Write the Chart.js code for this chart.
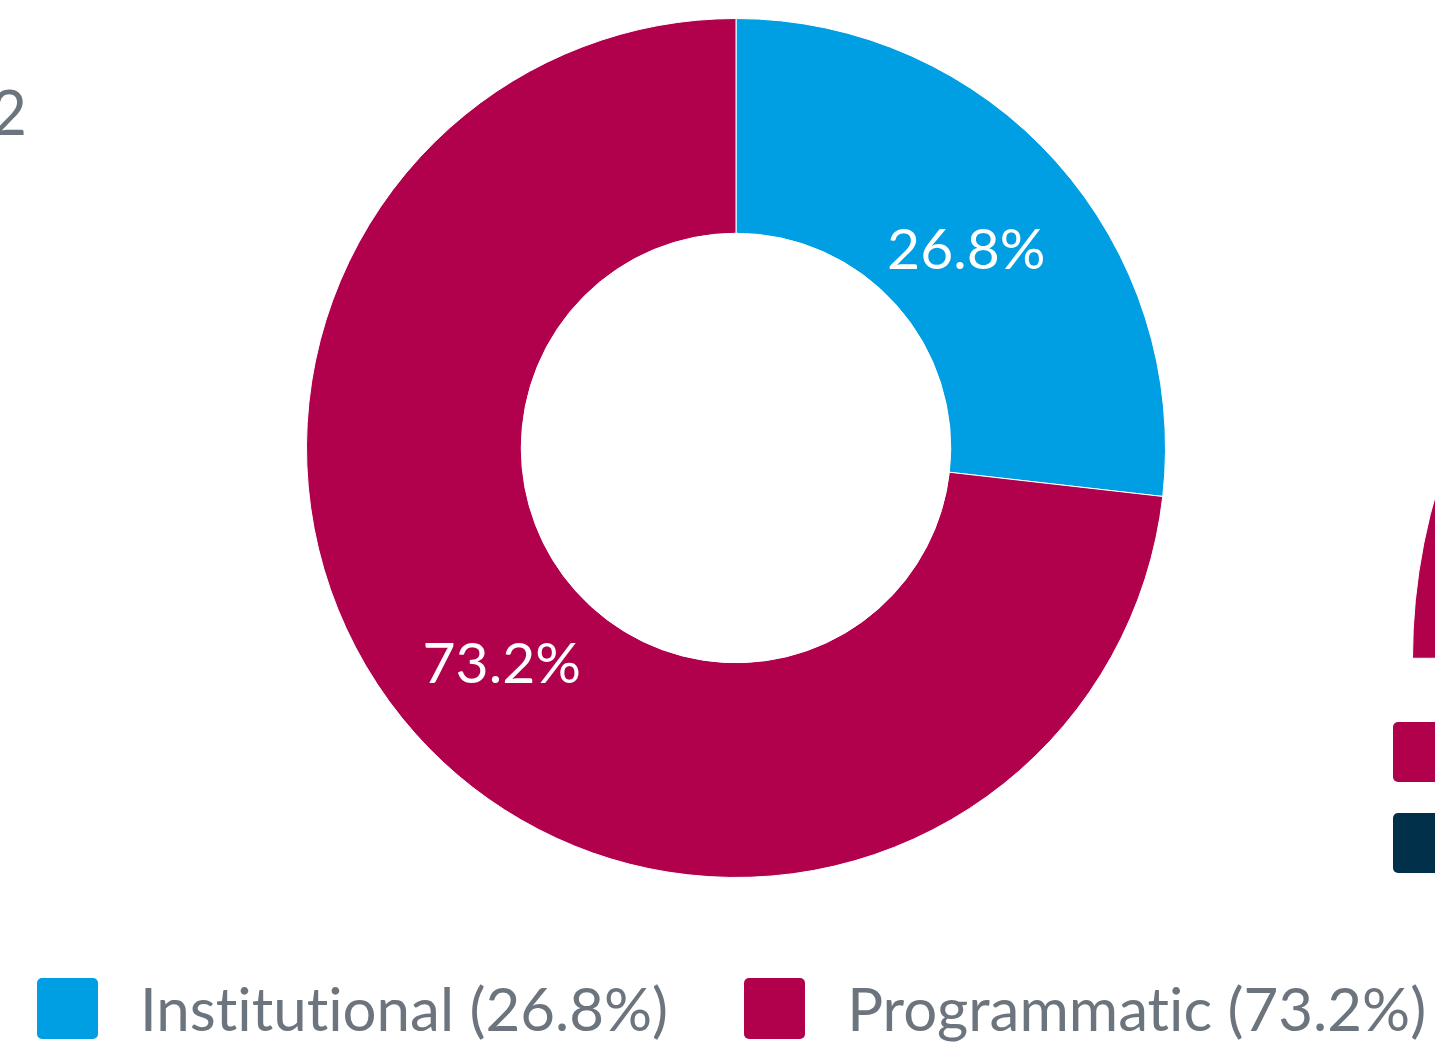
<!DOCTYPE html>
<html>
<head>
<meta charset="utf-8">
<title>Funding split</title>
<script src="https://cdn.jsdelivr.net/npm/chart.js@4.4.1/dist/chart.umd.min.js"></script>
<style>
  html, body {
    margin: 0;
    padding: 0;
    width: 1435px;
    height: 1049px;
    overflow: hidden;
    background: #fff;
    font-family: Lato, sans-serif;
    font-variant-ligatures: none;
    font-feature-settings: "liga" 0, "clig" 0;
  }
  body { position: relative; }
  .abs { position: absolute; }

  /* cut-off heading from the panel on the left */
  #edgeText {
    right: 1408px;
    top: 74px;
    font-size: 62px;
    line-height: 1.2;
    color: #6c757d;
    white-space: nowrap;
  }

  #legend {
    left: 37px;
    top: 972px;
    display: flex;
    align-items: center;
  }
  .item { display: flex; align-items: center; margin-right: 76px; }
  .box { width: 61px; height: 61px; border-radius: 5px; margin-right: 42px; }
  .text { font-size: 60px; line-height: 1.2; color: #6c757d; white-space: nowrap; }

  #rightLegend { left: 1393px; top: 722px; }
  .rbox { width: 60px; height: 60px; border-radius: 5px; margin-bottom: 31px; }
</style>
</head>
<body>

<div id="edgeText" class="abs">2</div>

<canvas id="chart" class="abs" width="860" height="860" style="left:306px; top:18px;"></canvas>
<canvas id="chartRight" class="abs" width="1182" height="592" style="left:1412px; top:67px;"></canvas>

<div id="legend" class="abs"></div>
<div id="rightLegend" class="abs"></div>

<script>
/* Data */
const categories = ["Institutional", "Programmatic"];
const shares = [26.8, 73.2];
const colors = ["#009fe3", "#b1004c"];

/* Neighbour gauge: only its left edge is in frame, split not readable */
const rightValues = [50, 50];
const rightColors = ["#b1004c", "#00304a"];

/* Percent labels inside the slices */
const sliceLabels = {
  id: "sliceLabels",
  afterDatasetsDraw(chart) {
    const ctx = chart.ctx;
    const meta = chart.getDatasetMeta(0);
    const size = 57;

    ctx.save();
    ctx.font = size + "px Lato";
    ctx.fillStyle = "#ffffff";
    ctx.textAlign = "center";
    ctx.textBaseline = "alphabetic";

    meta.data.forEach((arc, i) => {
      const p = arc.getProps(["x", "y", "startAngle", "endAngle", "innerRadius", "outerRadius"], true);
      const mid = (p.startAngle + p.endAngle) / 2;
      const r = p.innerRadius + (p.outerRadius - p.innerRadius) * 0.45;
      const x = p.x + Math.cos(mid) * r;
      const y = p.y + Math.sin(mid) * r;
      ctx.fillText(shares[i].toFixed(1) + "%", x - 2, y + size * 0.49);
    });

    ctx.restore();
  }
};

/* Main doughnut */
const chart = new Chart(document.getElementById("chart"), {
  type: "doughnut",
  data: {
    labels: categories,
    datasets: [
      {
        data: shares,
        backgroundColor: colors,
        borderColor: "#ffffff",
        borderWidth: 1
      }
    ]
  },
  options: {
    responsive: false,
    animation: false,
    cutout: "50%",
    layout: { padding: 0 },
    plugins: {
      legend: { display: false },
      tooltip: { enabled: false }
    }
  },
  plugins: [sliceLabels]
});

/* Half gauge at the right edge */
new Chart(document.getElementById("chartRight"), {
  type: "doughnut",
  data: {
    datasets: [
      {
        data: rightValues,
        backgroundColor: rightColors,
        borderColor: "#ffffff",
        borderWidth: 1
      }
    ]
  },
  options: {
    responsive: false,
    animation: false,
    rotation: -90,
    circumference: 180,
    cutout: "50%",
    layout: { padding: 0 },
    plugins: {
      legend: { display: false },
      tooltip: { enabled: false }
    }
  }
});

/* Legend */
const legend = document.getElementById("legend");

categories.forEach((name, i) => {
  const item = document.createElement("div");
  item.className = "item";
  item.innerHTML =
    '<div class="box" style="background:' + colors[i] + '"></div>' +
    '<div class="text">' + name + " (" + shares[i].toFixed(1) + "%)</div>";
  legend.appendChild(item);
});

const rightLegend = document.getElementById("rightLegend");

rightColors.forEach((c) => {
  const box = document.createElement("div");
  box.className = "rbox";
  box.style.background = c;
  rightLegend.appendChild(box);
});
</script>
</body>
</html>
